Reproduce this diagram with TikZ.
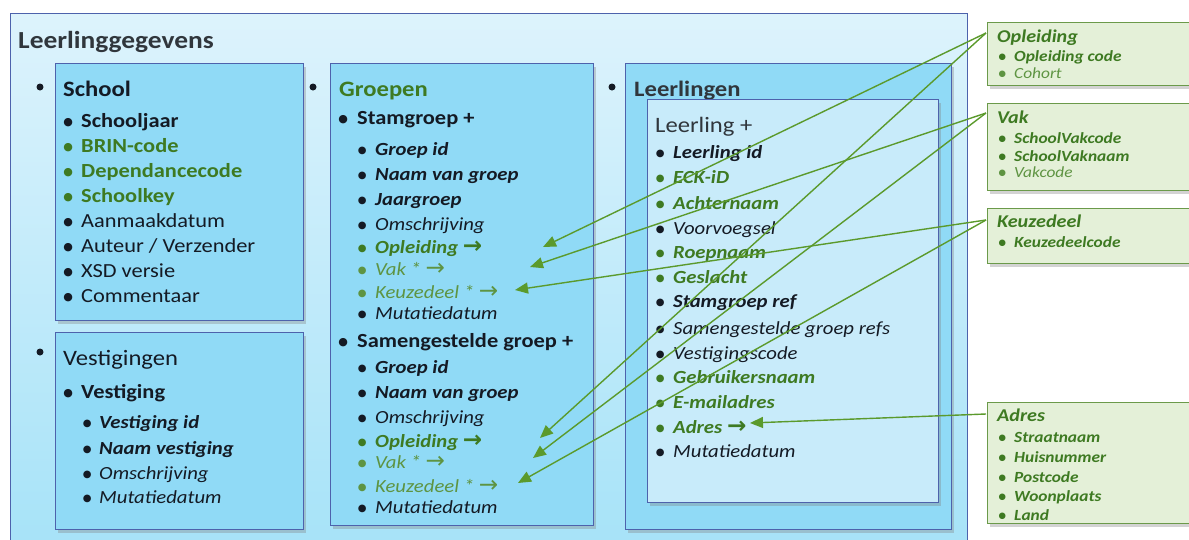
\documentclass[tikz,border=0pt]{standalone}
\usepackage{fontspec}
\setmainfont{Carlito}[FakeStretch=1.12]
\newfontfamily\arr{DejaVu Sans}
\usetikzlibrary{shadows,arrows.meta}
\definecolor{outerTop}{HTML}{DDF3FC}
\definecolor{outerBot}{HTML}{A4E2F8}
\definecolor{boxFill}{HTML}{90DAF6}
\definecolor{boxBorder}{HTML}{4D62AC}
\definecolor{innerFill}{HTML}{C8EBFA}
\definecolor{grFill}{HTML}{E4F0D8}
\definecolor{grBorder}{HTML}{6B9A4A}
\definecolor{tBlack}{HTML}{141A24}
\definecolor{tGreen}{HTML}{3E7A22}
\definecolor{tLight}{HTML}{5E9442}
\definecolor{tGray}{HTML}{30363C}
\definecolor{lnGreen}{HTML}{5B9A2C}
% bullet: [size]{gap from bullet centre to text}
\newcommand\bul[2][11]{\makebox[0pt][r]{\makebox[0pt]{\raisebox{1.2pt}{\fontsize{#1}{#1}\arr\upshape\mdseries ●}}\hspace{#2}}}
\newcommand\rarr{{\arr\upshape\smash{\scalebox{1.25}{→}}}}
\newcommand\lgi[5]{\node[#4] (#1) at (#2,#3) {#5};}
\begin{document}
\begin{tikzpicture}[x=1pt,y=-1pt,
  every node/.style={inner sep=0pt, anchor=base west},
  ttl/.style={font=\fontsize{24.5}{24}\selectfont\bfseries, text=tGray},
  hd/.style={font=\fontsize{22}{22}\selectfont},
  hdb/.style={font=\fontsize{22}{22}\selectfont\bfseries},
  a/.style={font=\fontsize{20}{20}\selectfont},
  ab/.style={font=\fontsize{20}{20}\selectfont\bfseries},
  s/.style={font=\fontsize{18.5}{18}\selectfont\itshape},
  sb/.style={font=\fontsize{18.5}{18}\selectfont\bfseries\itshape},
  r/.style={font=\fontsize{15.5}{15}\selectfont\itshape},
  rb/.style={font=\fontsize{15.5}{15}\selectfont\bfseries\itshape},
  rh/.style={font=\fontsize{18}{17}\selectfont\bfseries\itshape},
  blk/.style={text=tBlack}, grn/.style={text=tGreen}, lgr/.style={text=tLight}, gry/.style={text=tGray},
  bbox/.style={draw=boxBorder, line width=1.3pt, fill=boxFill, anchor=north west,
     drop shadow={shadow xshift=2pt, shadow yshift=-3pt, opacity=0.35}},
  gbox/.style={draw=grBorder, line width=1.3pt, fill=grFill, anchor=north west,
     drop shadow={shadow xshift=2pt, shadow yshift=-3pt, opacity=0.35}},
  dot/.style={circle, fill=tBlack, inner sep=0pt, minimum size=7pt, anchor=center},
  conn/.style={draw=lnGreen, line width=1.4pt, -{Triangle[length=13pt,width=11pt]}}
]
\useasboundingbox (0,0) rectangle (1189,539);
\clip (0,0) rectangle (1189,539);
% outer box
\node[draw=boxBorder, line width=1.3pt, top color=outerTop, bottom color=outerBot,
  anchor=north west, minimum width=957pt, minimum height=560pt] (outer) at (10,13) {};
\lgi{title}{18}{48}{ttl}{Leerlinggegevens}

% outer bullets
\node[dot] (d1) at (40,87) {};
\node[dot] (d2) at (40,352) {};
\node[dot] (d3) at (313,87) {};
\node[dot] (d4) at (612,87) {};
\node[dot] (d5) at (637,120) {};

% School
\node[bbox, minimum width=248pt, minimum height=257pt] (school) at (55,63) {};
\lgi{schoolH}{63}{96}{hdb,blk}{School}
\lgi{s1}{81}{127}{ab,blk}{\bul{13pt}Schooljaar}
\lgi{s2}{81}{152}{ab,grn}{\bul{13pt}BRIN-code}
\lgi{s3}{81}{177}{ab,grn}{\bul{13pt}Dependancecode}
\lgi{s4}{81}{202}{ab,grn}{\bul{13pt}Schoolkey}
\lgi{s5}{81}{227}{a,blk}{\bul{13pt}Aanmaakdatum}
\lgi{s6}{81}{252}{a,blk}{\bul{13pt}Auteur / Verzender}
\lgi{s7}{81}{277}{a,blk}{\bul{13pt}XSD versie}
\lgi{s8}{81}{302}{a,blk}{\bul{13pt}Commentaar}

% Vestigingen
\node[bbox, minimum width=248pt, minimum height=197pt] (vest) at (55,332) {};
\lgi{vestH}{63}{365}{hd,blk}{Vestigingen}
\lgi{v0}{81}{398}{ab,blk}{\bul{13pt}Vestiging}
\lgi{v1}{99}{428}{sb,blk}{\bul[10]{12pt}Vestiging id}
\lgi{v2}{99}{454}{sb,blk}{\bul[10]{12pt}Naam vestiging}
\lgi{v3}{99}{479}{s,blk}{\bul[10]{12pt}Omschrijving}
\lgi{v4}{99}{503}{s,blk}{\bul[10]{12pt}Mutatiedatum}

% Groepen
\node[bbox, minimum width=263pt, minimum height=462pt] (groepen) at (330,63) {};
\lgi{grH}{339}{96}{hdb,grn}{Groepen}
\lgi{g0}{357}{124}{ab,blk}{\bul{14pt}Stamgroep +}
\lgi{g1}{375}{155}{sb,blk}{\bul[10]{13pt}Groep id}
\lgi{g2}{375}{180}{sb,blk}{\bul[10]{13pt}Naam van groep}
\lgi{g3}{375}{205}{sb,blk}{\bul[10]{13pt}Jaargroep}
\lgi{g4}{375}{230}{s,blk}{\bul[10]{13pt}Omschrijving}
\lgi{g5}{375}{253}{sb,grn}{\bul[10]{13pt}Opleiding {\bfseries\rarr}}
\lgi{g6}{375}{275}{s,lgr}{\bul[10]{13pt}Vak * \rarr}
\lgi{g7}{375}{298}{s,lgr}{\bul[10]{13pt}Keuzedeel * \rarr}
\lgi{g8}{375}{319}{s,blk}{\bul[10]{13pt}Mutatiedatum}
\lgi{h0}{357}{347}{ab,blk}{\bul{14pt}Samengestelde groep +}
\lgi{h1}{375}{373}{sb,blk}{\bul[10]{13pt}Groep id}
\lgi{h2}{375}{398}{sb,blk}{\bul[10]{13pt}Naam van groep}
\lgi{h3}{375}{423}{s,blk}{\bul[10]{13pt}Omschrijving}
\lgi{h5}{375}{447}{sb,grn}{\bul[10]{13pt}Opleiding {\bfseries\rarr}}
\lgi{h6}{375}{468}{s,lgr}{\bul[10]{13pt}Vak * \rarr}
\lgi{h7}{375}{492}{s,lgr}{\bul[10]{13pt}Keuzedeel * \rarr}
\lgi{h8}{375}{513}{s,blk}{\bul[10]{13pt}Mutatiedatum}

% Leerlingen
\node[bbox, minimum width=326pt, minimum height=466pt] (leerlingen) at (625,63) {};
\lgi{llH}{634}{96}{hdb,gry}{Leerlingen}
\node[bbox, fill=innerFill, minimum width=291pt, minimum height=403pt] (leerling) at (647,99) {};
\lgi{lH}{655}{132}{hd,gry}{Leerling +}
\lgi{l1}{673}{158}{sb,blk}{\bul[10]{13pt}Leerling id}
\lgi{l2}{673}{183}{sb,grn}{\bul[10]{13pt}ECK-iD}
\lgi{l3}{673}{209}{sb,grn}{\bul[10]{13pt}Achternaam}
\lgi{l4}{673}{234}{s,blk}{\bul[10]{13pt}Voorvoegsel}
\lgi{l5}{673}{258}{sb,grn}{\bul[10]{13pt}Roepnaam}
\lgi{l6}{673}{283}{sb,grn}{\bul[10]{13pt}Geslacht}
\lgi{l7}{673}{307}{sb,blk}{\bul[10]{13pt}Stamgroep ref}
\lgi{l8}{673}{334}{s,blk}{\bul[10]{13pt}Samengestelde groep refs}
\lgi{l9}{673}{359}{s,blk}{\bul[10]{13pt}Vestigingscode}
\lgi{l10}{673}{383}{sb,grn}{\bul[10]{13pt}Gebruikersnaam}
\lgi{l11}{673}{408}{sb,grn}{\bul[10]{13pt}E-mailadres}
\lgi{l12}{673}{433}{sb,grn}{\bul[10]{13pt}Adres {\bfseries\rarr}}
\lgi{l13}{673}{457}{s,blk}{\bul[10]{13pt}Mutatiedatum}

% green boxes
\node[gbox, minimum width=210pt, minimum height=63pt] (opl) at (987,22) {};
\lgi{oplH}{997}{42}{rh,grn}{Opleiding}
\lgi{o1}{1014}{61}{rb,grn}{\bul[8.5]{12pt}Opleiding code}
\lgi{o2}{1014}{78}{r,lgr}{\bul[8.5]{12pt}Cohort}

\node[gbox, minimum width=210pt, minimum height=87pt] (vak) at (987,103) {};
\lgi{vakH}{997}{123}{rh,grn}{Vak}
\lgi{k1}{1014}{143}{rb,grn}{\bul[8.5]{12pt}SchoolVakcode}
\lgi{k2}{1014}{161}{rb,grn}{\bul[8.5]{12pt}SchoolVaknaam}
\lgi{k3}{1014}{177}{r,lgr}{\bul[8.5]{12pt}Vakcode}

\node[gbox, minimum width=210pt, minimum height=55pt] (keuze) at (987,208) {};
\lgi{kzH}{997}{227}{rh,grn}{Keuzedeel}
\lgi{z1}{1014}{247}{rb,grn}{\bul[8.5]{12pt}Keuzedeelcode}

\node[gbox, minimum width=210pt, minimum height=121pt] (adres) at (987,402) {};
\lgi{adH}{997}{421}{rh,grn}{Adres}
\lgi{a1}{1014}{442}{rb,grn}{\bul[8.5]{12pt}Straatnaam}
\lgi{a2}{1014}{462}{rb,grn}{\bul[8.5]{12pt}Huisnummer}
\lgi{a3}{1014}{482}{rb,grn}{\bul[8.5]{12pt}Postcode}
\lgi{a4}{1014}{501}{rb,grn}{\bul[8.5]{12pt}Woonplaats}
\lgi{a5}{1014}{520}{rb,grn}{\bul[8.5]{12pt}Land}

% connector coordinates
\coordinate (sOpl) at (986,33);
\coordinate (sVak) at (986,113);
\coordinate (sKz) at (986,220);
\coordinate (sAd) at (986,414);
\coordinate (tOpl1) at (543,247);
\coordinate (tVak1) at (530,267);
\coordinate (tKz1) at (515,290);
\coordinate (tOpl2) at (540,438);
\coordinate (tVak2) at (533,458);
\coordinate (tKz2) at (518,483);
\coordinate (tAd) at (750,423);
\draw[conn] (sOpl) -- (tOpl1);
\draw[conn] (sOpl) -- (tOpl2);
\draw[conn] (sVak) -- (tVak1);
\draw[conn] (sVak) -- (tVak2);
\draw[conn] (sKz) -- (tKz1);
\draw[conn] (sKz) -- (tKz2);
\draw[conn] (sAd) -- (tAd);
\end{tikzpicture}
\end{document}
